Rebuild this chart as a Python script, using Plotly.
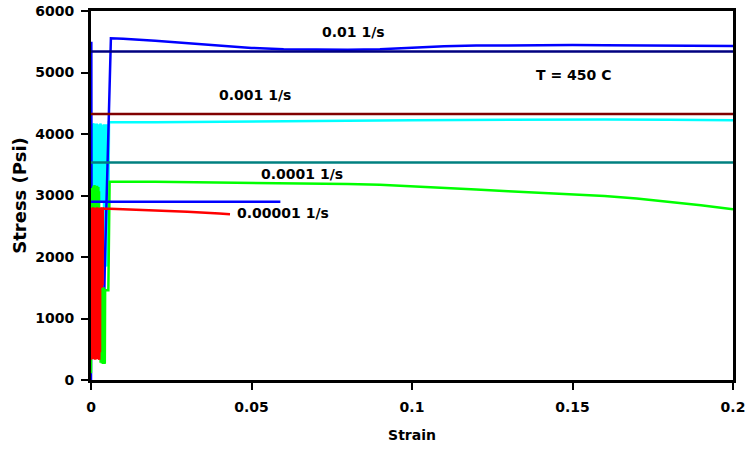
import plotly.graph_objects as go

# ---------------- data ----------------
x_ticks = [0, 0.05, 0.1, 0.15, 0.2]
x_tick_text = ["0", "0.05", "0.1", "0.15", "0.2"]
y_ticks = [0, 1000, 2000, 3000, 4000, 5000, 6000]

# 0.001 1/s (cyan)
cyan_x = [0.0000, 0.0001, 0.0002, 0.0003, 0.0004, 0.0005, 0.0006, 0.0007, 0.0008, 0.0009,
          0.0010, 0.0011, 0.0012, 0.0013, 0.0014, 0.0015, 0.0016, 0.0017, 0.0018, 0.0019,
          0.0020, 0.0021, 0.0022, 0.0023, 0.0024, 0.0025, 0.0026, 0.0027, 0.0028, 0.0029,
          0.0030, 0.0031, 0.0032, 0.0033, 0.0037, 0.0038, 0.0039, 0.0040, 0.0041, 0.0042,
          0.0043, 0.0044, 0.0045, 0.0046, 0.0047, 0.0048, 0.0049, 0.0050, 0.0051, 0.0052,
          0.0053, 0.0054, 0.0056, 0.0200, 0.0400, 0.0600, 0.0800, 0.1000, 0.1200, 0.1400,
          0.1600, 0.1800, 0.2000]
cyan_y = [4150, 2950, 4160, 2920, 4140, 3000, 4160, 2940, 4150, 2960,
          4170, 2900, 4140, 2980, 4160, 2930, 4150, 2900, 4170, 2950,
          4140, 2910, 4150, 2970, 4160, 2930, 4150, 2900, 4140, 2960,
          4170, 2920, 4150, 2900, 2900, 4150, 2900, 4160, 1870, 4140,
          1840, 4150, 1860, 4160, 1850, 4140, 1880, 4150, 1850, 4160,
          1900, 4150, 4190, 4190, 4195, 4205, 4215, 4225, 4230, 4235,
          4235, 4230, 4222]

# 0.01 1/s (blue)
blue_x = [0.0000, 0.0001, 0.0002, 0.0040, 0.0043, 0.0062, 0.0100, 0.0200, 0.0300, 0.0400,
          0.0500, 0.0600, 0.0700, 0.0800, 0.0900, 0.1000, 0.1100, 0.1200, 0.1300, 0.1400,
          0.1500, 0.1600, 0.1700, 0.1800, 0.1900, 0.2000]
blue_y = [0, 5500, 1000, 1000, 1850, 5556, 5550, 5515, 5475, 5435,
          5400, 5378, 5368, 5370, 5380, 5405, 5425, 5437, 5444, 5447,
          5447, 5445, 5441, 5437, 5434, 5431]

# 0.0001 1/s (green)
green_x = [0.0000, 0.0001, 0.0002, 0.0003, 0.0004, 0.0005, 0.0006, 0.0007, 0.0008, 0.0009,
           0.0010, 0.0011, 0.0012, 0.0013, 0.0014, 0.0015, 0.0016, 0.0017, 0.0018, 0.0019,
           0.0020, 0.0021, 0.0022, 0.0023, 0.0024, 0.0025, 0.0026, 0.0027, 0.0028, 0.0029,
           0.0030, 0.0031, 0.0032, 0.0033, 0.0034, 0.0035, 0.0036, 0.0037, 0.0038, 0.0039,
           0.0040, 0.0041, 0.0042, 0.0043, 0.0044, 0.0054, 0.0058, 0.0200, 0.0400, 0.0600,
           0.0700, 0.0800, 0.0900, 0.1000, 0.1100, 0.1200, 0.1300, 0.1400, 0.1500, 0.1600,
           0.1700, 0.1800, 0.1900, 0.2000]
green_y = [110, 3050, 420, 3120, 380, 3080, 350, 3150, 400, 3100,
           360, 3170, 390, 3060, 340, 3130, 410, 3090, 370, 3160,
           350, 3100, 400, 3140, 380, 3070, 360, 1500, 300, 1520,
           280, 1480, 310, 1510, 270, 1500, 290, 1490, 260, 1510,
           275, 1400, 270, 280, 1460, 1460, 3225, 3222, 3214, 3203,
           3197, 3188, 3174, 3152, 3125, 3097, 3071, 3047, 3020, 2990,
           2952, 2902, 2843, 2776]

# 0.00001 1/s (red)
red_x = [0.0000, 0.0001, 0.0002, 0.0003, 0.0004, 0.0005, 0.0006, 0.0007, 0.0008, 0.0009,
         0.0010, 0.0011, 0.0012, 0.0013, 0.0014, 0.0015, 0.0016, 0.0017, 0.0018, 0.0019,
         0.0020, 0.0021, 0.0022, 0.0023, 0.0024, 0.0025, 0.0026, 0.0027, 0.0028, 0.0029,
         0.0030, 0.0031, 0.0032, 0.0033, 0.0034, 0.0035, 0.0036, 0.0037, 0.0039, 0.0100,
         0.0200, 0.0300, 0.0400, 0.0433]
red_y = [330, 2790, 360, 2800, 340, 2780, 400, 2810, 350, 2790,
         380, 2800, 330, 2770, 420, 2800, 360, 2790, 340, 2810,
         390, 2780, 350, 2800, 370, 2790, 330, 2800, 450, 2800,
         1520, 2790, 1550, 2810, 1500, 2780, 1540, 2800, 2790, 2775,
         2758, 2737, 2706, 2694]

# flat reference lines
navy_x, navy_y = [0.0, 0.2], [5340, 5340]
darkred_x, darkred_y = [0.0, 0.2], [4325, 4325]
teal_x, teal_y = [0.0, 0.2], [3537, 3537]
blueshort_x, blueshort_y = [0.0, 0.059], [2897, 2897]

# text labels: (text, x, y)
labels = [("0.01 1/s", 0.0819, 5663),
          ("T = 450 C", 0.1504, 4959),
          ("0.001 1/s", 0.0511, 4634),
          ("0.0001 1/s", 0.0657, 3350),
          ("0.00001 1/s", 0.0597, 2711)]

# ---------------- figure ----------------
FONT = "DejaVu Sans, sans-serif"
FS = 14
fig = go.Figure()

def add(x, y, color, w=2.5):
    fig.add_trace(go.Scatter(x=x, y=y, mode="lines",
                             line=dict(color=color, width=w),
                             hoverinfo="skip", showlegend=False))

add(cyan_x, cyan_y, "#00FFFF")
add(blue_x, blue_y, "#0000FF")
add(green_x, green_y, "#00FF00")
add(red_x, red_y, "#FF0000")
add(navy_x, navy_y, "#000080")
add(darkred_x, darkred_y, "#800000")
add(teal_x, teal_y, "#008080")
add(blueshort_x, blueshort_y, "#0000FF")

for t, x, y in labels:
    fig.add_annotation(x=x, y=y, xref="x", yref="y", text=t, showarrow=False,
                       font=dict(family=FONT, size=FS, color="black", weight="bold"))

tf = dict(family=FONT, size=FS, color="black", weight="bold")
fig.update_layout(
    width=748, height=450,
    margin=dict(l=91, r=15, t=11, b=70),
    paper_bgcolor="white", plot_bgcolor="white",
    showlegend=False,
    font=tf,
    xaxis=dict(range=[0, 0.2], tickvals=x_ticks, ticktext=x_tick_text,
               automargin=False,
               showgrid=False, zeroline=False, showline=True, linecolor="black",
               linewidth=3, mirror=True, ticks="outside", ticklen=7, tickwidth=2,
               tickcolor="black", tickfont=tf, ticklabelstandoff=5,
               title=dict(text="Strain", standoff=17, font=tf)),
    yaxis=dict(range=[0, 6000], tickvals=y_ticks,
               automargin=False,
               showgrid=False, zeroline=False, showline=True, linecolor="black",
               linewidth=3, mirror=True, ticks="outside", ticklen=7, tickwidth=2,
               tickcolor="black", tickfont=tf, ticklabelstandoff=4,
               title=dict(text="Stress (Psi)", standoff=4,
                          font=dict(family=FONT, size=18, color="black", weight="bold"))),
)

fig.write_html("out.html", config={"displayModeBar": False},
               post_script="document.body.style.margin='0';document.body.style.padding='0';")
